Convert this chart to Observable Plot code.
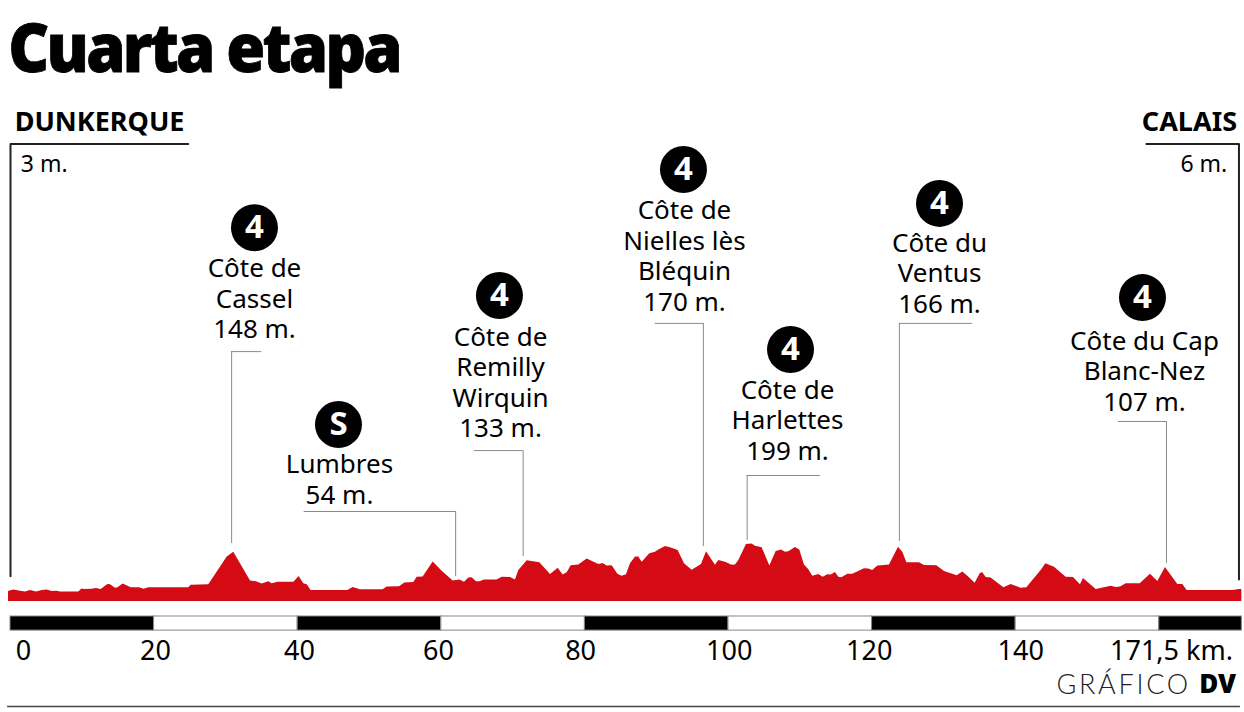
<!DOCTYPE html>
<html lang="es">
<head>
<meta charset="utf-8">
<script src="https://cdn.jsdelivr.net/npm/d3@7"></script>
<script src="https://cdn.jsdelivr.net/npm/@observablehq/plot@0.6"></script>
<style>
html,body{margin:0;padding:0;background:#fff;overflow:hidden}
h1{margin:0;height:100px;box-sizing:border-box;padding:0 0 0 9px;font:900 68px/92px "Noto Sans",sans-serif;letter-spacing:-3px;color:#000;transform:scaleX(.93);transform-origin:left top;-webkit-text-stroke:.8px #000}
svg{display:block}
g[font-family="Lato"]{letter-spacing:2.7px}
</style>
</head>
<body>
<h1>Cuarta etapa</h1>
<div id="chart"></div>
<script>
const profileKm = [-0.28,0.46,1.39,2.09,2.79,3.62,4.41,5.11,5.8,6.5,6.96,9.52,9.93,10.3,11.37,11.98,12.63,13.56,13.93,14.62,14.95,15.69,16.81,18.01,18.57,19.27,24.84,25.16,27.62,30.18,31.1,33.43,34.26,35.05,35.98,36.44,37.28,39.46,40.2,40.85,41.32,41.87,46.98,47.72,48.73,51.9,52.46,54.18,54.92,56.17,56.64,57.47,58.87,60.12,61.65,62.58,63.23,63.83,64.3,64.9,65.37,66.02,67.78,68.48,69.64,70.33,70.8,71.96,73.72,75.21,76.28,76.97,77.53,78.09,79.15,80.32,81.94,82.54,83.1,83.8,84.59,85.19,85.79,86.35,87.05,87.51,87.98,89.04,89.83,90.3,91.23,91.92,92.99,93.87,94.94,96.24,96.94,98.19,98.65,99.58,100.51,100.97,101.44,102.5,103.3,103.76,104.69,105.76,106.64,107.38,107.94,108.4,109.33,109.93,110.58,111.19,111.74,112.58,113.18,113.83,114.3,114.9,115.37,115.78,116.62,117.32,118.94,119.54,120.1,120.8,121.73,122.42,123.68,124.28,124.84,126.6,127.3,129.02,130.08,131.85,132.64,133.33,134.35,135.1,135.42,135.89,136.58,138.35,139.37,140.76,141.55,143.55,144.2,145.4,147.03,148.05,149.02,149.44,151.21,153.3,154.0,154.6,155.39,157.34,158.77,159.8,160.86,162.58,163.28,163.88,170.24,171.17,171.5];
const profileElev = [33,38,34,32,37,32,37,38,33,34,32,32,42,40,41,43,40,57,56,44,46,58,46,46,41,46,46,54,56,148,164,68,66,58,66,59,64,64,83,59,56,37,37,47,39,39,48,49,62,63,81,82,132,101,68,72,64,78,79,66,66,72,72,81,80,72,103,136,129,90,111,88,96,119,122,142,123,127,118,119,91,84,89,126,148,148,131,159,164,172,183,179,170,126,104,123,166,121,137,131,121,122,137,190,192,184,179,118,167,172,164,166,180,172,122,106,84,90,81,89,88,97,81,79,91,91,109,108,103,118,120,122,181,164,129,129,120,119,100,86,98,84,61,94,96,80,78,46,57,44,46,103,126,114,81,80,56,77,40,51,47,48,59,59,91,67,113,57,57,37,37,40,40];

const climbBadge = ["4","S","4","4","4","4","4"];
const climbName = ["Côte de\nCassel\n148 m.","Lumbres\n54 m.","Côte de\nRemilly\nWirquin\n133 m.","Côte de\nNielles lès\nBléquin\n170 m.","Côte de\nHarlettes\n199 m.","Côte du\nVentus\n166 m.","Côte du Cap\nBlanc-Nez\n107 m."];
const climbKm = [30.8,62.0,71.4,96.5,102.6,123.8,161.0];

const tickLabels = ["0","20","40","60","80","100","120","140","171,5 km."];
const segmentEdges = [0,20,40,60,80,100,120,140,160,171.5];
const startLabel = "DUNKERQUE", startElev = "3 m.", endLabel = "CALAIS", endElev = "6 m.";

// Annotation layout, in the chart's km / metre units
const leaderTop = [833,300,503,927,420,927,600];
const leaderBottom = [193,83,150,183,203,200,127];
const leaderFrom = [35.0,40.9,64.6,89.8,112.8,134.0,154.3];
const badgeKm = [33.98,45.68,68.1,93.73,108.64,129.39,157.66];
const badgeY = [1246,590,1020,1440,840,1327,1013];
const textKm = [33.98,45.82,68.25,93.87,108.22,129.39,157.94];
const textY = [1012,410,733,1154,606,1097,770];
const tickKm = [1.8,20.2,40.25,59.6,79.4,100.1,119.6,140.7,161.7];

const profile = profileKm.map((km,i)=>({km,elev:profileElev[i]}));
const climbs = climbName.map((name,i)=>({name,badge:climbBadge[i],km:climbKm[i],top:leaderTop[i],bottom:leaderBottom[i],from:leaderFrom[i],bx:badgeKm[i],by:badgeY[i],tx:textKm[i],ty:textY[i]}));
const segments = segmentEdges.slice(0,-1).map((a,i)=>({a,b:segmentEdges[i+1],dark:i%2===0}));
const ticks = tickLabels.map((t,i)=>({t,x:tickKm[i]}));

const FONT = '"Noto Sans",sans-serif';
const chart = Plot.plot({
  width:1244,height:612,margin:0,
  style:{background:"#fff",fontFamily:FONT},
  x:{domain:[-1.393,171.87],range:[0,1244],axis:null},
  y:{domain:[-370,1670],range:[612,0],axis:null},
  marks:[
    // start / finish frames
    Plot.line([{x:24.75,y:1525},{x:0,y:1525},{x:0,y:84}],{x:"x",y:"y",stroke:"#222",strokeWidth:2}),
    Plot.line([{x:158.2,y:1525},{x:171.1,y:1525},{x:171.1,y:73}],{x:"x",y:"y",stroke:"#222",strokeWidth:2}),
    Plot.text([startLabel],{x:12.4,y:1597,text:d=>d,fontSize:27,fontWeight:700,fill:"#000"}),
    Plot.text([endLabel],{x:164.2,y:1597,text:d=>d,fontSize:27,fontWeight:700,fill:"#000"}),
    Plot.text([startElev],{x:4.7,y:1457,text:d=>d,fontSize:23,fill:"#000"}),
    Plot.text([endElev],{x:166.2,y:1457,text:d=>d,fontSize:23,fill:"#000"}),
    // profile
    Plot.areaY(profile,{x:"km",y1:0,y2:"elev",fill:"#d40b14"}),
    // leaders
    Plot.ruleX(climbs,{x:"km",y1:"bottom",y2:"top",stroke:"#8a8a8a",strokeWidth:1}),
    Plot.ruleY(climbs,{y:"top",x1:"from",x2:"km",stroke:"#8a8a8a",strokeWidth:1}),
    // badges and labels
    Plot.dot(climbs,{x:"bx",y:"by",r:23.5,fill:"#000",stroke:null}),
    Plot.text(climbs,{x:"bx",y:"by",text:"badge",fill:"#fff",fontSize:33,fontWeight:700}),
    Plot.text(climbs,{x:"tx",y:"ty",text:"name",fontSize:26,lineHeight:1.173,fill:"#000"}),
    // distance bar
    Plot.rect(segments,{x1:"a",x2:"b",y1:-97,y2:-50,fill:d=>d.dark?"#000":"#fff",stroke:"#888",strokeWidth:1}),
    Plot.text(ticks,{x:"x",y:-167,text:"t",fontSize:27,fill:"#000"}),
    // credit
    Plot.text(["GRÁFICO"],{x:164.4,y:-278,text:d=>d,textAnchor:"end",fontFamily:"Lato",fontWeight:300,fontSize:27,fill:"#222"}),
    Plot.text(["DV"],{x:170.7,y:-278,text:d=>d,textAnchor:"end",fontSize:26,fontWeight:900,fill:"#000"}),
    Plot.ruleY([-350],{x1:-0.4,x2:171.3,stroke:"#444",strokeWidth:1.5})
  ]
});
document.getElementById("chart").append(chart);
</script>
</body>
</html>
